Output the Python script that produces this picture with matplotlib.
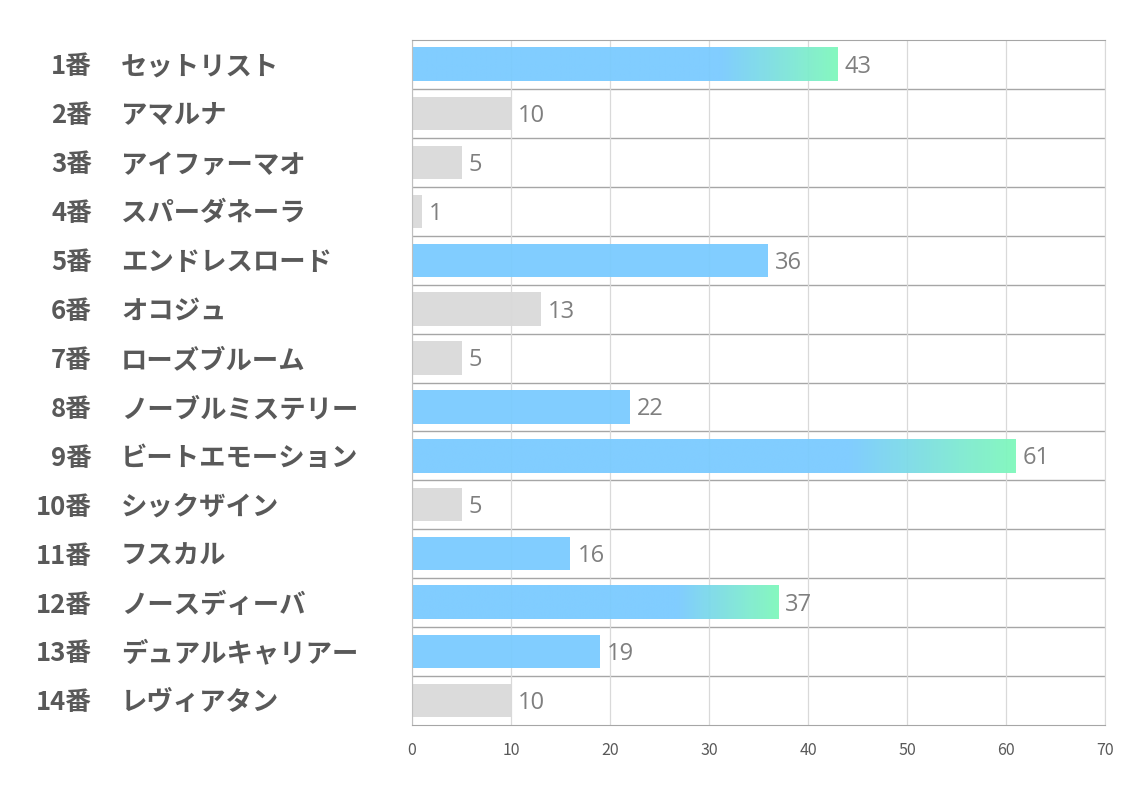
import matplotlib.pyplot as plt
import numpy as np
from matplotlib.colors import LinearSegmentedColormap

plt.rcParams['font.family'] = ['Noto Sans CJK JP', 'DejaVu Sans']

nums = ['1番', '2番', '3番', '4番', '5番', '6番', '7番', '8番', '9番', '10番', '11番', '12番', '13番', '14番']
names = ['セットリスト', 'アマルナ', 'アイファーマオ', 'スパーダネーラ', 'エンドレスロード', 'オコジュ',
         'ローズブルーム', 'ノーブルミステリー', 'ビートエモーション', 'シックザイン', 'フスカル',
         'ノースディーバ', 'デュアルキャリアー', 'レヴィアタン']
values = [43, 10, 5, 1, 36, 13, 5, 22, 61, 5, 16, 37, 19, 10]
# 'b' blue, 'g' gray, 'x' blue->green gradient
kinds = ['x', 'g', 'g', 'g', 'b', 'g', 'g', 'b', 'x', 'g', 'b', 'x', 'b', 'g']

BLUE = '#7acbff'
GREEN = '#80f8bc'
GRAY = '#d9d9d9'

fig = plt.figure(figsize=(11.34, 7.93), dpi=100)
ax = fig.add_axes([412/1134, 1-725/793, 693/1134, 685/793])

h = 0.68
cmap = LinearSegmentedColormap.from_list('bg', [BLUE, BLUE, GREEN])
for i, (v, k) in enumerate(zip(values, kinds)):
    if k == 'g':
        ax.barh(i, v, height=h, color=GRAY, alpha=0.95, zorder=2)
    elif k == 'b':
        ax.barh(i, v, height=h, color=BLUE, alpha=0.95, zorder=2)
    else:
        # whole bar as one image: flat blue, then blending to green
        start = v * 0.45
        xs = np.linspace(0, v, 512)
        grad = np.clip((xs - start) / (v - start), 0, 1).reshape(1, -1)
        ax.imshow(grad, cmap=cmap, aspect='auto', extent=[0, v, i + h/2, i - h/2],
                  zorder=2, alpha=0.95, interpolation='bilinear')
    ax.text(v + 0.7, i + 0.05, str(v), va='center', ha='left', fontsize=17,
            color='#7f7f7f', family=['Open Sans', 'DejaVu Sans'])

ax.set_xlim(0, 70)
ax.set_ylim(len(values) - 0.5, -0.5)
ax.set_xticks(range(0, 71, 10))
ax.tick_params(axis='x', length=0, pad=12, labelsize=11.5, labelcolor='#595959')
ax.set_yticks([])
ax.grid(axis='x', color='#d9d9d9', linewidth=0.9, zorder=0)
for b in np.arange(0.5, len(values) - 0.5, 1):
    ax.axhline(b, color='#a6a6a6', linewidth=1, zorder=1)
for s in ['top', 'bottom']:
    ax.spines[s].set_color('#a6a6a6')
ax.spines['left'].set_color('#bfbfbf')
ax.spines['right'].set_color('#d9d9d9')

for i in range(len(values)):
    yy = ax.transData.transform((0, i))[1]
    yf = yy / fig.bbox.height - 0.003
    fig.text(92/1134, yf, nums[i], ha='right', va='center', fontsize=18.5,
             fontweight='bold', color='#595959')
    fig.text(121/1134, yf, names[i], ha='left', va='center', fontsize=19,
             fontweight='bold', color='#595959')

fig.savefig('out.png', dpi=100)
